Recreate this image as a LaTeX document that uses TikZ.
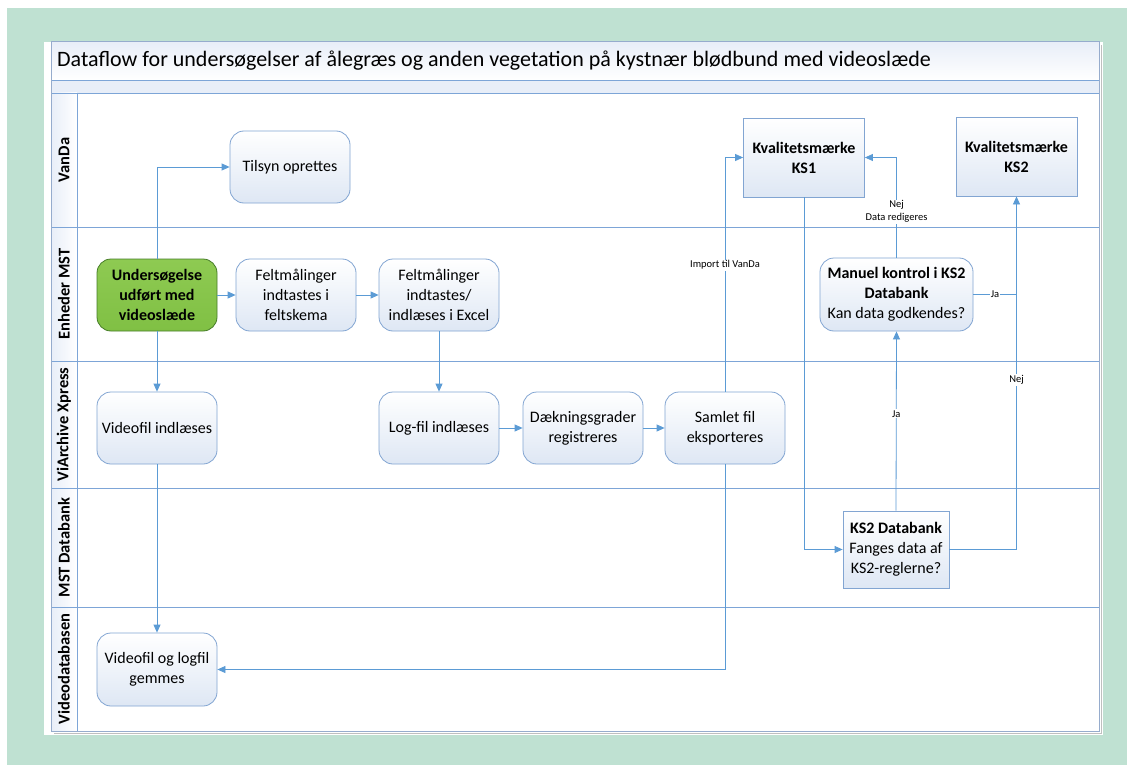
\documentclass[tikz,border=0pt]{standalone}
\usepackage{fontspec}
\setmainfont{Carlito}
\usetikzlibrary{arrows.meta}
\definecolor{bggreen}{RGB}{191,225,210}
\definecolor{lanecol}{RGB}{125,165,215}
\definecolor{framecol}{RGB}{150,172,205}
\definecolor{conncol}{RGB}{91,155,213}
\definecolor{boxborder}{RGB}{130,165,210}
\definecolor{boxfill}{RGB}{222,231,244}
\definecolor{headfill}{RGB}{232,238,248}
\definecolor{greenfill}{RGB}{128,192,68}
\definecolor{greentop}{RGB}{142,202,82}
\definecolor{greenborder}{RGB}{70,125,40}
\newcommand\bxf{\fontsize{16}{20}\selectfont}
\newcommand\lanef{\fontsize{16.5}{20}\selectfont}
\newcommand\lblf{\fontsize{10.5}{13}\selectfont}
\begin{document}
\begin{tikzpicture}[x=1pt,y=-1pt,
  proc/.style={draw=boxborder, line width=0.8pt, rounded corners=14pt,
    minimum width=120pt, minimum height=72pt, align=center,
    top color=white, bottom color=boxfill, font=\bxf, inner sep=2pt},
  rbox/.style={draw=boxborder, line width=0.8pt,
    minimum width=121pt, minimum height=79pt, align=center,
    top color=white, bottom color=boxfill, font=\bxf, inner sep=2pt},
  startbox/.style={proc, draw=greenborder, top color=greentop, bottom color=greenfill, font=\bxf\bfseries},
  conn/.style={draw=conncol, line width=0.8pt, -{Triangle[length=8pt,width=7pt]}},
  plainconn/.style={draw=conncol, line width=0.8pt},
  lbl/.style={fill=white, font=\lblf, inner sep=1pt, align=center},
  lane/.style={draw=lanecol, line width=0.9pt},
  lanelbl/.style={rotate=90, font=\lanef\bfseries}]
\useasboundingbox (0,0) rectangle (1127,765);
\fill[white] (0,0) rectangle (1127,765);
\fill[bggreen] (7,8) rectangle (1127,765);
\fill[white] (44,42) rectangle (1103,735);
% frame shadow
\draw[black!25, line width=1pt] (54,733.5) -- (1101.5,733.5) -- (1101.5,45);
% title and header fills
\shade[top color=headfill, bottom color=white] (51,42) rectangle (1099,80);
\fill[headfill] (51,80) rectangle (1099,93);
\shade[left color=headfill, right color=white] (51,93) rectangle (77,731);
% lanes
\draw[lane] (51,80) -- (1099,80);
\foreach \yy in {93,227,361,488,607} \draw[lane] (51,\yy) -- (1099,\yy);
\draw[lane] (77,93) -- (77,731);
\draw[framecol, line width=1pt] (51,42) rectangle (1099,731);
% title
\node[anchor=west, font=\fontsize{22}{26}\selectfont, inner sep=0pt] (title) at (57,61)
  {Dataflow for undersøgelser af ålegræs og anden vegetation på kystnær blødbund med videoslæde};
% lane labels
\node[lanelbl] (lvanda) at (64,160) {VanDa};
\node[lanelbl] (lmst) at (64,294) {Enheder MST};
\node[lanelbl] (lvia) at (64,424.5) {ViArchive Xpress};
\node[lanelbl] (lmstdb) at (64,547.5) {MST Databank};
\node[lanelbl] (lvdb) at (64,669) {Videodatabasen};
% nodes
\node[proc] (tilsyn) at (290,167) {Tilsyn oprettes};
\node[startbox] (under) at (157,295) {Undersøgelse\\udført med\\videoslæde};
\node[proc] (felt1) at (296,295) {Feltmålinger\\indtastes i\\feltskema};
\node[proc] (felt2) at (439,295) {Feltmålinger\\indtastes/\\indlæses i Excel};
\node[proc] (video) at (157,428) {Videofil indlæses};
\node[proc] (logfil) at (439,428) {Log-fil indlæses};
\node[proc] (daek) at (583,428) {Dækningsgrader\\registreres};
\node[proc] (samlet) at (725,428) {Samlet fil\\eksporteres};
\node[rbox] (ks1) at (804,157.5) {\textbf{Kvalitetsmærke}\\\textbf{KS1}};
\node[rbox] (ks2) at (1016.5,156.5) {\textbf{Kvalitetsmærke}\\\textbf{KS2}};
\node[proc, minimum width=153pt, minimum height=73pt] (manuel) at (896.5,294.5)
  {\textbf{Manuel kontrol i KS2}\\\textbf{Databank}\\Kan data godkendes?};
\node[rbox, minimum width=106pt, minimum height=77pt, inner sep=1pt] (ks2db) at (896,549.5)
  {\textbf{KS2 Databank}\\Fanges data af\\KS2-reglerne?};
\node[proc, minimum height=73pt] (gemmes) at (157,669.5) {Videofil og logfil\\gemmes};
% connectors
\draw[conn] (under.north) |- (tilsyn.west);
\draw[conn] (under) -- (felt1);
\draw[conn] (felt1) -- (felt2);
\draw[conn] (under.south) -- (video.north);
\draw[conn] (felt2.south) -- (logfil.north);
\draw[conn] (logfil) -- (daek);
\draw[conn] (daek) -- (samlet);
\draw[conn] (samlet.north) |- (ks1.west) node[lbl, pos=0.27] (limport) {Import til VanDa};
\draw[conn] (samlet.south) |- (gemmes.east);
\draw[conn] (video.south) -- (gemmes.north);
\draw[conn] (ks1.south) |- (ks2db.west);
\draw[conn] (ks2db.north) -- (manuel.south) node[lbl, pos=0.54] (lja1) {Ja};
\draw[conn] (ks2db.east) -| (ks2.south) node[lbl, pos=0.74] (lnej1) {Nej};
\draw[plainconn] (manuel.east) -- (manuel.east -| ks2.south) node[lbl, midway] (lja2) {Ja};
\draw[conn] (manuel.north) |- (ks1.east) node[lbl, pos=0.23] (lnej2) {Nej\\Data redigeres};
\end{tikzpicture}
\end{document}
